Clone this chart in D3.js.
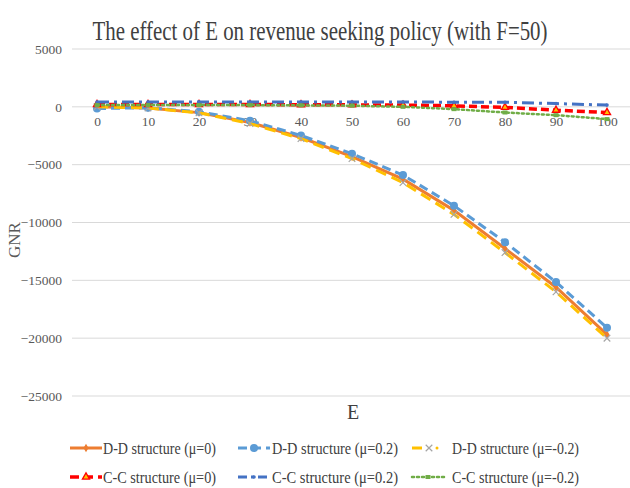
<!DOCTYPE html>
<html>
<head>
<meta charset="utf-8">
<script src="https://cdn.jsdelivr.net/npm/d3@7"></script>
<style>
  body { margin: 0; background: #fff; }
  svg text { font-family: "Liberation Serif", "Times New Roman", "DejaVu Serif", serif; }
</style>
</head>
<body>
<script>
// chart data
var eValues = [0, 10, 20, 30, 40, 50, 60, 70, 80, 90, 100];
var yTicks = [5000, 0, -5000, -10000, -15000, -20000, -25000];

var ddMu0 = [0, -100, -500, -1350, -2650, -4300, -6250, -8950, -12250, -15600, -19700];
var ddMuPos = [-150, -80, -430, -1200, -2480, -4050, -5900, -8550, -11700, -15150, -19100];
var ddMuNeg = [0, -100, -520, -1450, -2750, -4480, -6550, -9300, -12600, -16000, -20000];
var ccMu0 = [200, 200, 200, 200, 180, 170, 150, 90, -50, -290, -490];
var ccMuPos = [420, 420, 420, 420, 420, 420, 420, 400, 400, 280, 150];
var ccMuNeg = [150, 150, 150, 150, 130, 100, 0, -200, -490, -720, -1060];

var seriesNames = ["D-D structure (μ=0)", "D-D structure  (μ=0.2)", "D-D structure  (μ=-0.2)",
                   "C-C structure (μ=0)", "C-C structure  (μ=0.2)", "C-C structure  (μ=-0.2)"];

var series = [
  {name: seriesNames[0], values: ddMu0, color: "#ED7D31", dash: null, width: 3, marker: "diamond", mcolor: "#ED7D31"},
  {name: seriesNames[1], values: ddMuPos, color: "#5B9BD5", dash: "9,5", width: 3, marker: "circle", mcolor: "#5B9BD5"},
  {name: seriesNames[2], values: ddMuNeg, color: "#FFC000", dash: "11,6", width: 3, marker: "x", mcolor: "#A5A5A5"},
  {name: seriesNames[3], values: ccMu0, color: "#FF0000", dash: "8,4", width: 3.5, marker: "triangle", mcolor: "#FF0000"},
  {name: seriesNames[4], values: ccMuPos, color: "#4472C4", dash: "12,5,3,5", width: 3, marker: "dot", mcolor: "#4472C4"},
  {name: seriesNames[5], values: ccMuNeg, color: "#70AD47", dash: "2,3", width: 2.5, marker: "square", mcolor: "#70AD47"}
];

var width = 630, height = 488;

var svg = d3.select("body").append("svg")
    .attr("width", width)
    .attr("height", height);

var x = d3.scalePoint().domain(eValues).range([97, 607]);
var y = d3.scaleLinear().domain([-25000, 5000]).range([396, 49]);

// title
svg.append("text")
    .attr("x", 320).attr("y", 40)
    .attr("text-anchor", "middle")
    .attr("font-size", 27)
    .attr("textLength", 455)
    .attr("lengthAdjust", "spacingAndGlyphs")
    .attr("fill", "#404040")
    .text("The effect of E on revenue seeking policy (with F=50)");

// gridlines
svg.append("g").selectAll("line")
    .data(yTicks)
    .enter().append("line")
    .attr("x1", 72).attr("x2", 630)
    .attr("y1", d => y(d)).attr("y2", d => y(d))
    .attr("stroke", "#d9d9d9")
    .attr("stroke-width", 1);

// y axis labels
var yAxis = d3.axisLeft(y).tickValues(yTicks).tickFormat(d3.format("d")).tickSize(0).tickPadding(0);
var gy = svg.append("g").attr("transform", "translate(62,0)").call(yAxis);
gy.attr("font-family", null);
gy.select(".domain").remove();
gy.selectAll("text")
    .attr("font-size", 13.5)
    .attr("fill", "#595959");

// x axis labels next to zero line
var xAxis = d3.axisBottom(x).tickSize(0).tickPadding(0);
var gx = svg.append("g").attr("transform", "translate(0," + (y(0) + 10) + ")").call(xAxis);
gx.attr("font-family", null);
gx.select(".domain").remove();
gx.selectAll("text")
    .attr("font-size", 13.5)
    .attr("fill", "#595959");

// axis titles
svg.append("text")
    .attr("transform", "translate(20,240) rotate(-90)")
    .attr("text-anchor", "middle")
    .attr("font-size", 17)
    .attr("fill", "#595959")
    .text("GNR");

svg.append("text")
    .attr("x", 353).attr("y", 419)
    .attr("text-anchor", "middle")
    .attr("font-size", 20)
    .attr("fill", "#404040")
    .text("E");

var line = d3.line()
    .x((d, i) => x(eValues[i]))
    .y(d => y(d));

function drawMarker(g, type, cx, cy, color, size) {
  var s = size || 1;
  if (type == "diamond") {
    g.append("path").attr("d", d3.symbol().type(d3.symbolDiamond).size(22 * s)())
      .attr("transform", "translate(" + cx + "," + cy + ")").attr("fill", color);
  } else if (type == "circle") {
    g.append("circle").attr("cx", cx).attr("cy", cy).attr("r", 4 * s).attr("fill", color);
  } else if (type == "x") {
    g.append("path").attr("d", d3.symbol().type(d3.symbolX).size(30 * s)())
      .attr("transform", "translate(" + cx + "," + cy + ")")
      .attr("stroke", color).attr("stroke-width", 1.2).attr("fill", "none");
  } else if (type == "triangle") {
    g.append("path").attr("d", d3.symbol().type(d3.symbolTriangle).size(22 * s)())
      .attr("transform", "translate(" + cx + "," + cy + ")")
      .attr("fill", "#FFC000").attr("stroke", color).attr("stroke-width", 1.3);
  } else if (type == "dot") {
    g.append("circle").attr("cx", cx).attr("cy", cy).attr("r", 1.8 * s).attr("fill", color);
  } else if (type == "square") {
    g.append("rect").attr("x", cx - 2.5 * s).attr("y", cy - 2 * s)
      .attr("width", 5 * s).attr("height", 4 * s).attr("fill", color);
  }
}

// series
var plot = svg.append("g");
series.forEach(function (s) {
  var g = plot.append("g");
  g.append("path")
    .attr("d", line(s.values))
    .attr("fill", "none")
    .attr("stroke", s.color)
    .attr("stroke-width", s.width)
    .attr("stroke-dasharray", s.dash)
    .attr("stroke-linecap", s.marker == "square" ? "round" : "butt");
  s.values.forEach(function (v, i) {
    drawMarker(g, s.marker, x(eValues[i]), y(v), s.mcolor);
  });
});

// legend
var legendPos = [
  {x: 70, y: 448}, {x: 238, y: 448}, {x: 412, y: 448},
  {x: 70, y: 477}, {x: 238, y: 477}, {x: 412, y: 477}
];
var legendText = [103, 272, 452, 103, 272, 452];

series.forEach(function (s, i) {
  var p = legendPos[i];
  var g = svg.append("g");
  var len = i == 2 ? 24 : 32;
  g.append("line")
    .attr("x1", p.x).attr("x2", p.x + len)
    .attr("y1", p.y).attr("y2", p.y)
    .attr("stroke", s.color)
    .attr("stroke-width", s.width)
    .attr("stroke-dasharray", i == 0 ? null : (i == 5 ? "2,3" : (i == 4 ? "9,4,3,4" : "9,5")))
    .attr("stroke-linecap", i == 5 ? "round" : "butt");
  if (i == 2) {
    g.selectAll("line").attr("x2", p.x + 10).attr("stroke-dasharray", null);
    drawMarker(g, s.marker, p.x + 17, p.y, s.mcolor);
    g.append("circle").attr("cx", p.x + 25).attr("cy", p.y).attr("r", 1.5).attr("fill", s.color);
  } else {
    drawMarker(g, s.marker, p.x + len / 2, p.y, s.mcolor);
  }
  g.append("text")
    .attr("x", legendText[i]).attr("y", p.y + 6)
    .attr("font-size", 17)
    .attr("fill", "#404040")
    .attr("textLength", i == 0 || i == 3 ? 113 : (i == 2 || i == 5 ? 127 : 126))
    .attr("lengthAdjust", "spacingAndGlyphs")
    .text(s.name);
});
</script>
</body>
</html>
